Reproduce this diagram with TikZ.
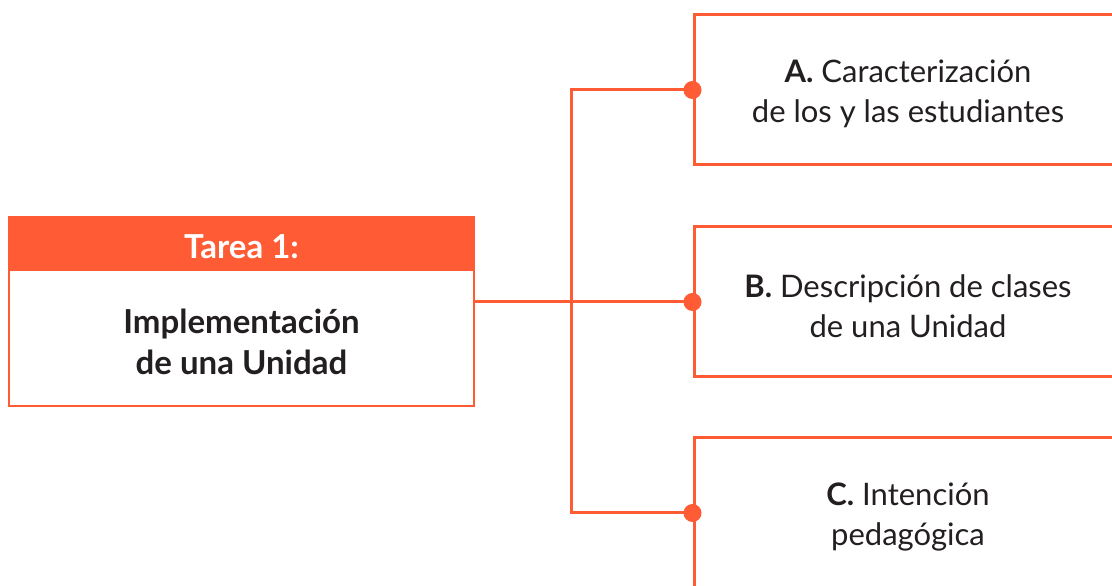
\documentclass[tikz,border=0pt]{standalone}
\usepackage{fontspec}
\setmainfont{Lato}
\usetikzlibrary{positioning}
\definecolor{naranja}{HTML}{FF5B35}
\definecolor{texto}{HTML}{231F20}

\begin{document}
\begin{tikzpicture}[
	x=1pt, y=1pt,
	caja/.style={draw=naranja, line width=3pt, minimum width=428pt, minimum height=150pt, inner sep=0pt},
	etiqueta/.style={align=center, text=texto, font=\fontsize{31}{40}\selectfont, yshift=-4pt},
	tareabox/.style={draw=naranja, line width=1.5pt, minimum width=465pt, minimum height=189pt, inner sep=0pt},
	punto/.style={circle, fill=naranja, minimum size=18pt, inner sep=0pt},
	conector/.style={draw=naranja, line width=3pt},
]
\useasboundingbox (0,0) rectangle (1112,586);
\clip (0,0) rectangle (1112,586);

\begin{scope}[]
%%% TAREA
\node [tareabox] (tarea) at (241.5,274.5) {};
\node [fill=naranja, anchor=north, minimum width=465pt, minimum height=55pt, inner sep=0pt] (cabecera) at (tarea.north) {};
\node [text=white, font=\fontsize{33}{40}\selectfont\bfseries, yshift=-3pt] (tarealabel) at (cabecera.center) {Tarea 1:};
\node [align=center, text=texto, font=\fontsize{33}{41}\selectfont\bfseries] (titulo) at (241.5,244) {Implementación\\de una Unidad};
\end{scope}

\begin{scope}[]
%%% CAJAS
\node [caja] (caracterizacion) at (908,496) {};
\node [caja] (descripcion) at (908,284) {};
\node [caja] (intencion) at (908,73) {};
\node [etiqueta] (textoA) at (caracterizacion.center) {\textbf{A.} Caracterización\\de los y las estudiantes};
\node [etiqueta] (textoB) at (descripcion.center) {\textbf{B.} Descripción de clases\\de una Unidad};
\node [etiqueta] (textoC) at (intencion.center) {\textbf{C.} Intención\\pedagógica};
\end{scope}

\begin{scope}[]
%%% CONECTORES
\coordinate (tronco) at (571,284);
\draw [conector] (tarea.east |- descripcion.west) -- (descripcion.west);
\draw [conector] (caracterizacion.west) -- (caracterizacion.west -| tronco) -- (intencion.west -| tronco) -- (intencion.west);
\node [punto] (puntoA) at (caracterizacion.west) {};
\node [punto] (puntoB) at (descripcion.west) {};
\node [punto] (puntoC) at (intencion.west) {};
\end{scope}

\end{tikzpicture}
\end{document}
